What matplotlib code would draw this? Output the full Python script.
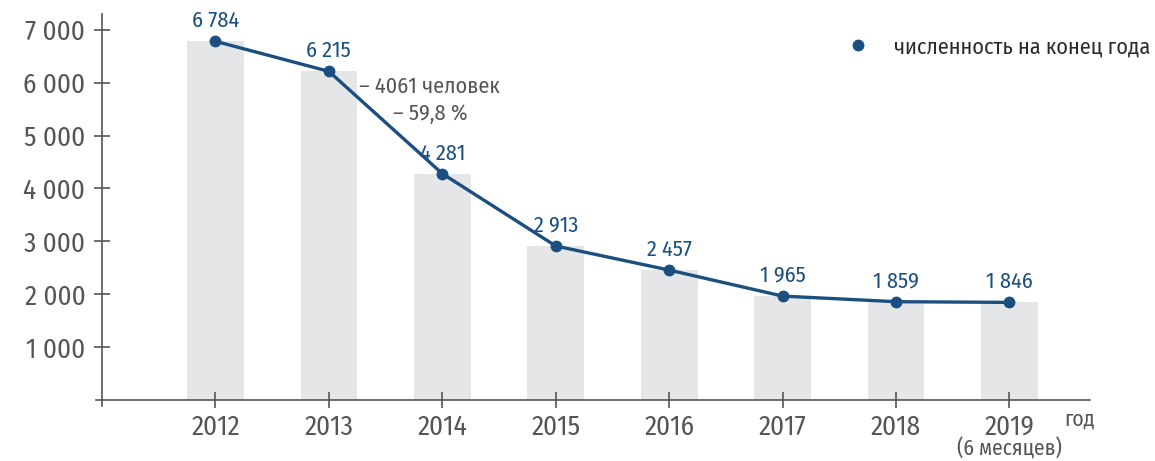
import matplotlib
matplotlib.use('Agg')
import matplotlib.pyplot as plt
import matplotlib.transforms as mtransforms
from matplotlib.lines import Line2D

plt.rcParams['font.family'] = ['Fira Sans Condensed', 'PT Sans Narrow', 'DejaVu Sans']

years = ['2012', '2013', '2014', '2015', '2016', '2017', '2018', '2019']
headcount = [6784, 6215, 4281, 2913, 2457, 1965, 1859, 1846]
y_ticks = [1000, 2000, 3000, 4000, 5000, 6000, 7000]
y_labels = ['1 000', '2 000', '3 000', '4 000', '5 000', '6 000', '7 000']

BLUE = '#1b4f80'
BAR = '#e5e6e8'
GREY = '#555555'

fig = plt.figure(figsize=(11.55, 4.61), dpi=100)
ax = fig.add_axes([102 / 1155, 61 / 461, (1090 - 102) / 1155, (400 - 14) / 461])

x = list(range(len(years)))
ax.bar(x, headcount, width=0.5, color=BAR, zorder=1)
ax.plot(x, headcount, color=BLUE, lw=2.4, marker='o', ms=7.5, zorder=3)

for xi, v in zip(x, headcount):
    s = f'{v:,}'.replace(',', ' ')
    ax.annotate(s, (xi, v), xytext=(0, 7), textcoords='offset points',
                ha='center', va='bottom', fontsize=16, color=BLUE)

ax.text(1.89, 5670, '– 4061 человек\n– 59,8 %', ha='center', va='center',
        fontsize=16, color=GREY, linespacing=1.3, multialignment='center')

ax.set_xlim(-1, 7.71)
ax.set_ylim(0, 7300)
ax.set_yticks(y_ticks)
ax.set_yticklabels(y_labels)
ax.set_xticks(x)
ax.set_xticklabels(years)

for s in ['top', 'right']:
    ax.spines[s].set_visible(False)
for s in ['left', 'bottom']:
    ax.spines[s].set_color(GREY)
    ax.spines[s].set_linewidth(1.2)

ax.tick_params(axis='y', direction='inout', length=12, width=1.2, color=GREY,
               labelsize=19.5, labelcolor=GREY, pad=6)
ax.tick_params(axis='x', direction='inout', length=12, width=1.2, color=GREY,
               labelsize=19.5, labelcolor=GREY, pad=4)

# extra tick crossing at the origin
ax.plot([-1, -1], [-120, 0], color=GREY, lw=1.2, clip_on=False)
ax.plot([-1.05, -1], [0, 0], color=GREY, lw=1.2, clip_on=False)

trans = mtransforms.blended_transform_factory(ax.transData, fig.transFigure)
ax.text(7, 1 - 449 / 461, '(6 месяцев)', transform=trans, ha='center',
        va='center', fontsize=15.5, color=GREY)
ax.text(7.62, 1 - 419 / 461, 'год', transform=trans, ha='center',
        va='center', fontsize=15.5, color=GREY)

handle = Line2D([], [], color=BLUE, marker='o', ls='none', ms=7.5)
fig.legend([handle], ['численность на конец года'], loc='center right',
           bbox_to_anchor=(1150 / 1155, 1 - 47 / 461), frameon=False,
           fontsize=16, handletextpad=0.6, borderpad=0, borderaxespad=0,
           labelcolor='#2b2b2b')

fig.savefig('out.png', dpi=100)
